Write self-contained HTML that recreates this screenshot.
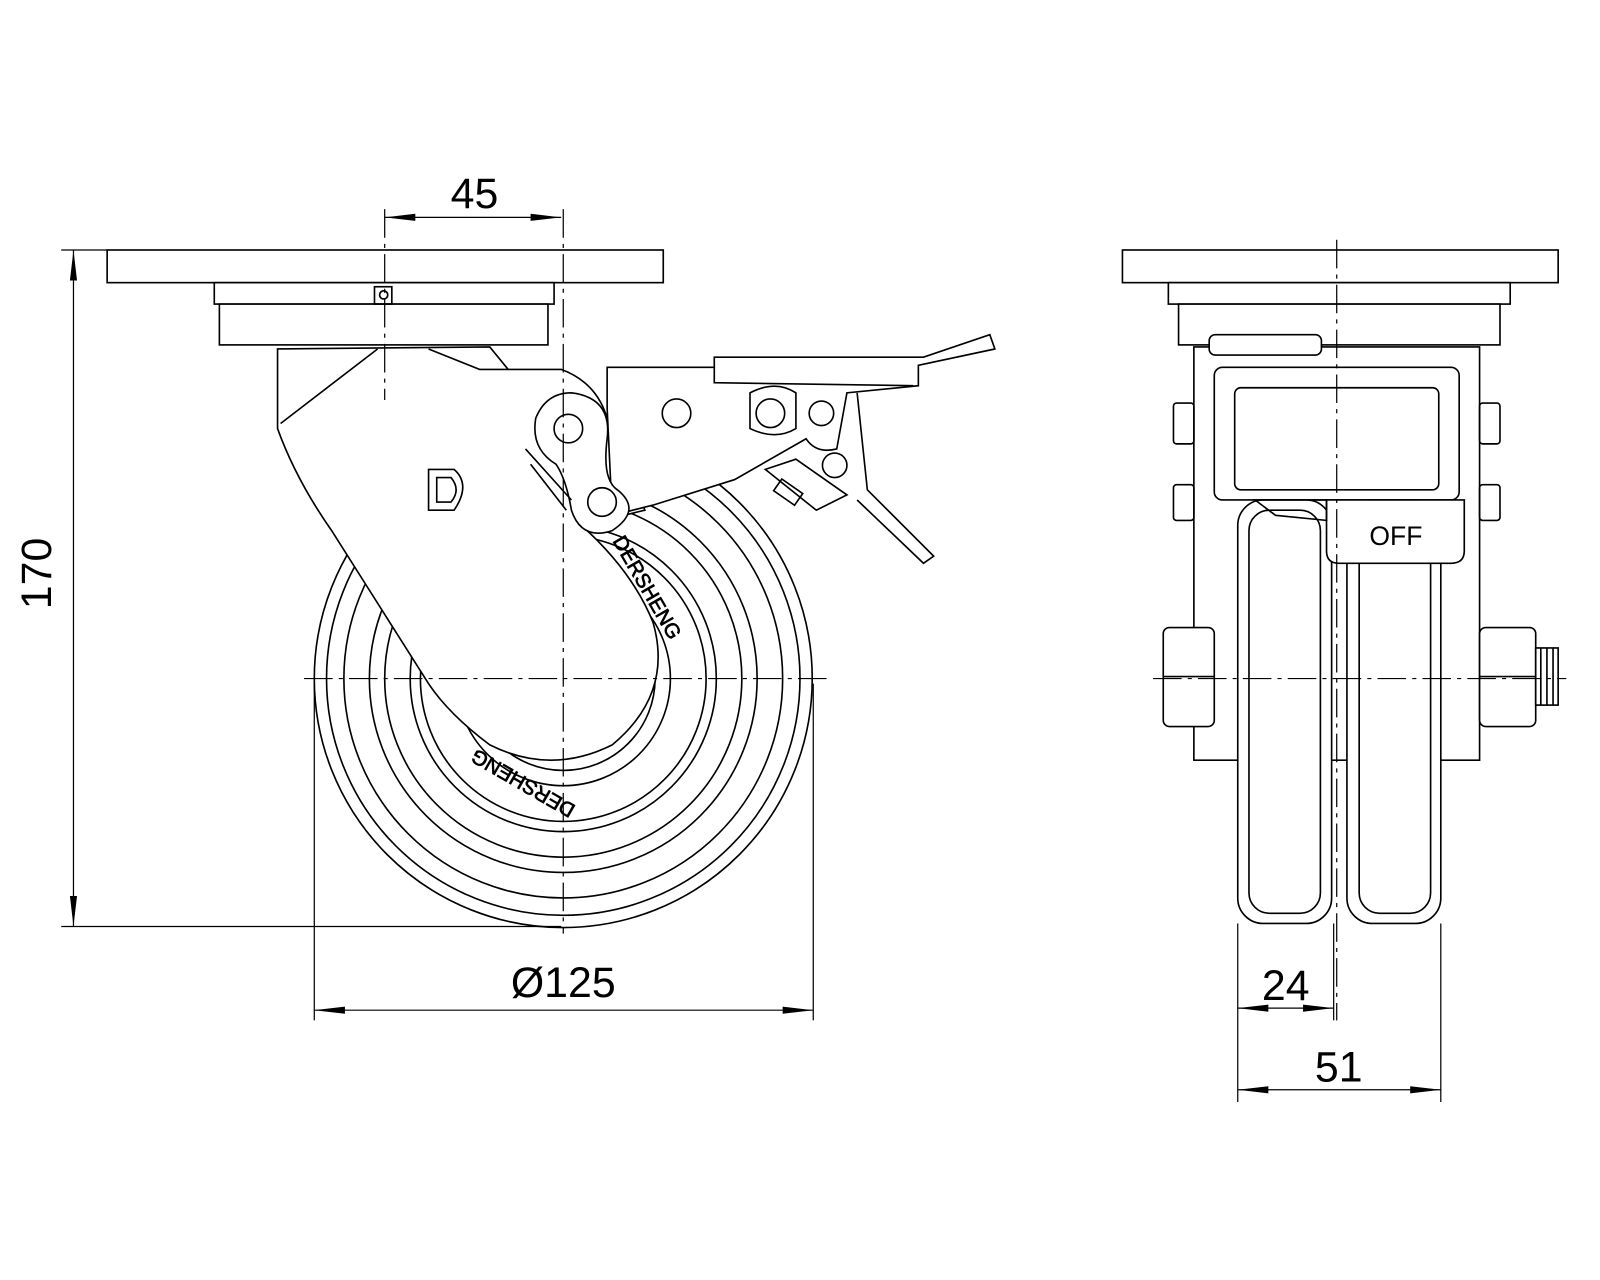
<!DOCTYPE html>
<html><head><meta charset="utf-8"><style>
html,body{margin:0;padding:0;background:#fff;}
svg{display:block;}
text{font-family:"Liberation Sans",sans-serif;fill:#000;}
</style></head><body>
<svg width="1600" height="1280" viewBox="0 0 1600 1280" xmlns="http://www.w3.org/2000/svg">
<defs>
<marker id="a" viewBox="0 0 30 10" refX="30" refY="5" markerWidth="30" markerHeight="10" orient="auto-start-reverse" markerUnits="userSpaceOnUse"><path d="M0,1.5 L30,5 L0,8.5 Z" fill="#000"/></marker>
</defs>
<g transform="scale(1.0204)">
<g fill="none" stroke="#000" stroke-width="1.6">
<rect x="105" y="245" width="545" height="32" fill="#fff"/>
<rect x="210" y="277" width="333" height="21" fill="#fff"/>
<rect x="215" y="298" width="322" height="40" fill="#fff"/>
<rect x="367" y="281" width="17" height="17"/>
<circle cx="376" cy="289" r="4"/>
<circle cx="552" cy="665" r="244"/>
<circle cx="552" cy="665" r="232"/>
<circle cx="552" cy="665" r="215"/>
<circle cx="552" cy="665" r="190"/>
<circle cx="552" cy="665" r="175"/>
<circle cx="552" cy="665" r="150"/>
<circle cx="552" cy="665" r="140"/>
<circle cx="552" cy="665" r="105"/>
<circle cx="552" cy="665" r="90"/>
<polygon points="526,620 578,620 604,665 578,710 526,710 500,665" fill="#fff"/>
<path d="M272,342 L480,340 L498,362 L550,362 Q585,375 595,410 L632,500 L570,515 Q620,560 640,610 Q660,680 600,730 Q540,760 480,730 Q440,700 420,670 L325,520 Q290,470 272,420 Z" fill="#fff"/>
<path d="M275,415 L370,342"/>
<path d="M420,342 L470,362 L498,362"/>
<path d="M420,460 L445,460 Q462,475 445,500 L420,500 Z"/>
<path d="M428,468 L442,468 Q452,480 442,492 L428,492 Z"/>
<path d="M595,360 L700,360 L700,350 L905,350 L970,328 L975,342 L900,358 L900,378 L830,385 L820,440 Q800,445 790,430 L720,470 L640,495 L600,505 L595,400 Z" fill="#fff"/>
<path d="M700,360 L700,375 L895,378"/>
<path d="M840,385 L850,480 L915,545 L905,552 L840,490"/>
<path d="M750,460 L800,500 L830,485 L780,450 Z" fill="#fff"/>
<rect x="760" y="475" width="25" height="14" transform="rotate(35 772 482)"/>
<path d="M560,385 Q600,390 595,430 Q590,470 605,480 Q630,500 600,520 Q570,530 560,500 Q555,470 545,455 Q520,440 525,410 Q535,385 560,385 Z" fill="#fff"/>
<circle cx="557" cy="420" r="14"/><circle cx="590" cy="492" r="14"/>
<circle cx="663" cy="405" r="14"/><circle cx="755" cy="405" r="14"/>
<circle cx="805" cy="405" r="12"/><circle cx="818" cy="456" r="12"/>
<path d="M735,385 Q760,372 780,385 L780,420 Q760,432 735,420 Z"/>
<path d="M515,440 L560,490 M520,455 L555,500"/>
<rect x="1100" y="245" width="427" height="32" fill="#fff"/>
<rect x="1145" y="277" width="335" height="21" fill="#fff"/>
<rect x="1155" y="298" width="315" height="40" fill="#fff"/>
<rect x="1170" y="340" width="280" height="405" fill="#fff"/>
<rect x="1185" y="328" width="110" height="20" rx="6" fill="#fff"/>
<rect x="1190" y="360" width="240" height="130" rx="8" fill="#fff"/>
<rect x="1210" y="380" width="200" height="100" rx="6"/>
<rect x="1150" y="395" width="20" height="40" rx="3"/>
<rect x="1150" y="475" width="20" height="35" rx="3"/>
<rect x="1450" y="395" width="20" height="40" rx="3"/>
<rect x="1450" y="475" width="20" height="35" rx="3"/>
<rect x="1213" y="490" width="92" height="415" rx="25" fill="#fff"/>
<rect x="1224" y="500" width="70" height="395" rx="20"/>
<rect x="1320" y="490" width="92" height="415" rx="25" fill="#fff"/>
<rect x="1332" y="500" width="70" height="395" rx="20"/>
<path d="M1300,490 L1435,490 L1435,540 Q1435,552 1422,552 L1312,552 Q1300,552 1300,540 Z" fill="#fff"/>
<path d="M1230,490 L1300,490 L1300,510 L1250,505 Z"/>
<rect x="1140" y="615" width="50" height="97" rx="6" fill="#fff"/>
<path d="M1140,663 L1190,663"/>
<rect x="1450" y="615" width="55" height="97" rx="6" fill="#fff"/>
<path d="M1450,663 L1505,663"/>
<rect x="1505" y="635" width="22" height="56" fill="#fff"/>
<path d="M1510,635 L1510,691 M1516,635 L1516,691 M1522,635 L1522,691"/>
</g>
<g stroke="#000" stroke-width="1.2" stroke-dasharray="28,6,4,6" fill="none">
<path d="M377,205 L377,392"/>
<path d="M552,205 L552,915"/>
<path d="M298,665 L810,665"/>
<path d="M1310,235 L1310,1000"/>
<path d="M1130,665 L1535,665"/>
</g>
<g stroke="#000" stroke-width="1.2" fill="none">
<path d="M60,245 L105,245 M60,908 L550,908"/>
<path d="M72,245 L72,908" marker-start="url(#a)" marker-end="url(#a)"/>
<path d="M377,213 L550,213" marker-start="url(#a)" marker-end="url(#a)"/>
<path d="M308,670 L308,1000 M797,670 L797,1000"/>
<path d="M308,990 L797,990" marker-start="url(#a)" marker-end="url(#a)"/>
<path d="M1213,905 L1213,1080 M1307,905 L1307,1000 M1412,905 L1412,1080"/>
<path d="M1213,988 L1307,988" marker-start="url(#a)" marker-end="url(#a)"/>
<path d="M1213,1068 L1412,1068" marker-start="url(#a)" marker-end="url(#a)"/>
</g>
<text x="465" y="204" font-size="42" text-anchor="middle">45</text>
<text x="65" y="577" font-size="42" text-anchor="middle" transform="rotate(-90 50 577)">170</text>
<text x="552" y="977" font-size="42" text-anchor="middle">Ø125</text>
<text x="1260" y="980" font-size="42" text-anchor="middle">24</text>
<text x="1312" y="1060" font-size="42" text-anchor="middle">51</text>
<text x="1368" y="534" font-size="26" text-anchor="middle">OFF</text>
<text x="0" y="0" font-size="20" transform="translate(600,530) rotate(60)" fill="none" stroke="#000" stroke-width="0.7">DERSHENG</text>
<text x="0" y="0" font-size="20" transform="translate(565,790) rotate(-150)" fill="none" stroke="#000" stroke-width="0.7">DERSHENG</text>
</g>
</svg>
</body></html>
